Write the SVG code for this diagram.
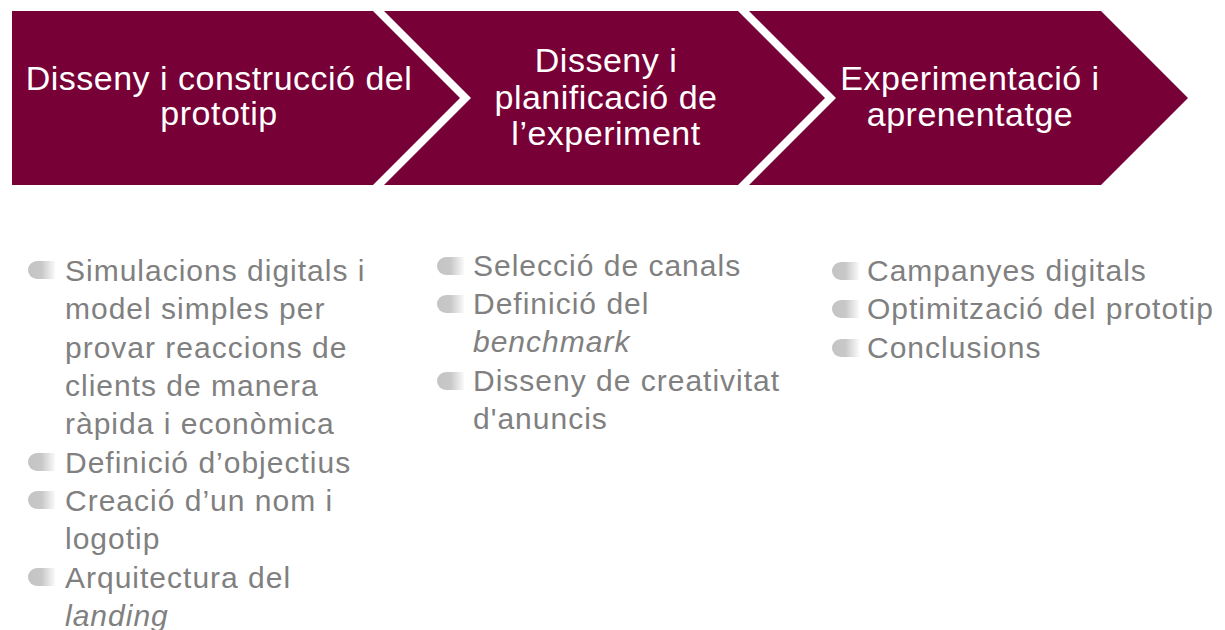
<svg xmlns="http://www.w3.org/2000/svg" width="1225" height="630" viewBox="0 0 1225 630">
<defs>
<linearGradient id="bg" x1="0" y1="0" x2="1" y2="0">
<stop offset="0" stop-color="#c4c4c4"/>
<stop offset="0.5" stop-color="#c8c8c8"/>
<stop offset="1" stop-color="#fafafa"/>
</linearGradient>
<path id="bul" d="M9,0 h18 v18 h-18 a9,9 0 0 1 0,-18 z" fill="url(#bg)"/>
</defs>
<style>
.chev{fill:#770037}
.ht{font-family:"Liberation Sans",Arial,sans-serif;font-size:34px;letter-spacing:0.5px;fill:#ffffff;text-anchor:middle}
.bt{font-family:"Liberation Sans",Arial,sans-serif;font-size:30px;letter-spacing:1px;fill:#808080}
.it{font-style:italic}
</style>
<rect width="1225" height="630" fill="#ffffff"/>
<g id="step1">
<polygon class="chev" points="12,11 373,11 460,98 373,185 12,185"/>
<text class="ht" x="219" y="90">Disseny i construcció del</text>
<text class="ht" x="219" y="125">prototip</text>
</g>
<g id="step2">
<polygon class="chev" points="384,11 738,11 825,98 738,185 384,185 471,98"/>
<text class="ht" x="606" y="72">Disseny i</text>
<text class="ht" x="606" y="109">planificació de</text>
<text class="ht" x="606" y="145">l’experiment</text>
</g>
<g id="step3">
<polygon class="chev" points="749,11 1101,11 1188,98 1101,185 749,185 836,98"/>
<text class="ht" x="970" y="90">Experimentació i</text>
<text class="ht" x="970" y="126">aprenentatge</text>
</g>
<g id="connectors"></g>
<g id="list1">
<use href="#bul" x="28" y="261"/>
<use href="#bul" x="28" y="453"/>
<use href="#bul" x="28" y="491"/>
<use href="#bul" x="28" y="568"/>
<text class="bt" x="65" y="281">Simulacions digitals i</text>
<text class="bt" x="65" y="319">model simples per</text>
<text class="bt" x="65" y="358">provar reaccions de</text>
<text class="bt" x="65" y="396">clients de manera</text>
<text class="bt" x="65" y="434">ràpida i econòmica</text>
<text class="bt" x="65" y="473">Definició d’objectius</text>
<text class="bt" x="65" y="511">Creació d’un nom i</text>
<text class="bt" x="65" y="549">logotip</text>
<text class="bt" x="65" y="588">Arquitectura del</text>
<text class="bt it" x="65" y="626">landing</text>
</g>
<g id="list2">
<use href="#bul" x="437" y="257"/>
<use href="#bul" x="437" y="295"/>
<use href="#bul" x="437" y="372"/>
<text class="bt" x="473" y="276">Selecció de canals</text>
<text class="bt" x="473" y="314">Definició del</text>
<text class="bt it" x="473" y="352">benchmark</text>
<text class="bt" x="473" y="391">Disseny de creativitat</text>
<text class="bt" x="473" y="429">d'anuncis</text>
</g>
<g id="list3">
<use href="#bul" x="832" y="262"/>
<use href="#bul" x="832" y="300"/>
<use href="#bul" x="832" y="339"/>
<text class="bt" x="867" y="281">Campanyes digitals</text>
<text class="bt" x="867" y="319">Optimització del prototip</text>
<text class="bt" x="867" y="358">Conclusions</text>
</g>
</svg>
